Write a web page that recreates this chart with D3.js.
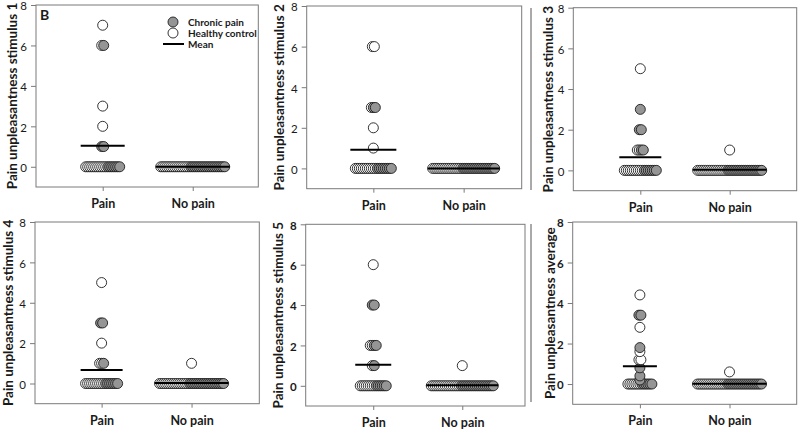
<!DOCTYPE html>
<html>
<head>
<meta charset="utf-8">
<script src="https://cdn.jsdelivr.net/npm/d3@7"></script>
<style>
  html, body { margin: 0; padding: 0; background: #fff; }
  svg { display: block; }
  text { font-family: Lato, "Open Sans", sans-serif; fill: #1a1a1a; }
</style>
</head>
<body>
<svg id="chart" width="800" height="429"></svg>
<script>
// ---------------- data ----------------
const categories = ["Pain", "No pain"];
const yTicks = [0, 2, 4, 6, 8];
const yDomain = [-1, 8];
const panelTitles = [
  "Pain unpleasantness stimulus 1",
  "Pain unpleasantness stimulus 2",
  "Pain unpleasantness stimulus 3",
  "Pain unpleasantness stimulus 4",
  "Pain unpleasantness stimulus 5",
  "Pain unpleasantness average"
];
const legendLabels = ["Chronic pain", "Healthy control", "Mean"];
const panelLetter = "B";

// Stimulus 1
const painLevels1 = [0, 1, 2, 3, 6, 7];
const painChronic1 = [7, 2, 0, 0, 1, 0];
const painHealthy1 = [11, 0, 1, 1, 1, 1];
const noPainLevels1 = [0];
const noPainChronic1 = [18];
const noPainHealthy1 = [15];

// Stimulus 2
const painLevels2 = [0, 1, 2, 3, 6];
const painChronic2 = [8, 0, 0, 2, 0];
const painHealthy2 = [11, 1, 1, 1, 2];
const noPainLevels2 = [0];
const noPainChronic2 = [17];
const noPainHealthy2 = [15];

// Stimulus 3
const painLevels3 = [0, 1, 2, 3, 5];
const painChronic3 = [7, 2, 2, 1, 0];
const painHealthy3 = [10, 2, 0, 0, 1];
const noPainLevels3 = [0, 1];
const noPainChronic3 = [18, 0];
const noPainHealthy3 = [15, 1];

// Stimulus 4
const painLevels4 = [0, 1, 2, 3, 5];
const painChronic4 = [7, 1, 0, 2, 0];
const painHealthy4 = [10, 2, 1, 0, 1];
const noPainLevels4 = [0, 1];
const noPainChronic4 = [18, 0];
const noPainHealthy4 = [15, 1];

// Stimulus 5
const painLevels5 = [0, 1, 2, 4, 6];
const painChronic5 = [6, 1, 2, 2, 0];
const painHealthy5 = [8, 1, 2, 0, 1];
const noPainLevels5 = [0, 1];
const noPainChronic5 = [17, 0];
const noPainHealthy5 = [15, 1];

// Average
const painLevels6 = [0, 0.2, 0.4, 0.8, 1.2, 1.6, 1.8, 2.8, 3.4, 4.4];
const painChronic6 = [6, 1, 1, 1, 0, 0, 1, 0, 2, 0];
const painHealthy6 = [7, 0, 0, 0, 2, 1, 0, 1, 0, 1];
const noPainLevels6 = [0, 0.6];
const noPainChronic6 = [18, 0];
const noPainHealthy6 = [15, 1];

// ---------------- layout ----------------
const layouts = [
  { x0: 36,    x1: 258.3, y0: 5,     y1: 187,   cat: [0.30, 0.705], labX: 12 },
  { x0: 306.7, x1: 521.7, y0: 6,     y1: 188.7, cat: [0.31, 0.73],  labX: 279 },
  { x0: 573.3, x1: 796.7, y0: 7.7,   y1: 190.7, cat: [0.30, 0.70],  labX: 548 },
  { x0: 35,    x1: 259.3, y0: 222,   y1: 403.7, cat: [0.297, 0.698], labX: 8 },
  { x0: 305.7, x1: 525,   y0: 224.3, y1: 406,   cat: [0.308, 0.714], labX: 278 },
  { x0: 572.7, x1: 796.7, y0: 222,   y1: 404.3, cat: [0.30, 0.70],  labX: 550 }
];

const panelData = [
  [[painLevels1, painChronic1, painHealthy1], [noPainLevels1, noPainChronic1, noPainHealthy1]],
  [[painLevels2, painChronic2, painHealthy2], [noPainLevels2, noPainChronic2, noPainHealthy2]],
  [[painLevels3, painChronic3, painHealthy3], [noPainLevels3, noPainChronic3, noPainHealthy3]],
  [[painLevels4, painChronic4, painHealthy4], [noPainLevels4, noPainChronic4, noPainHealthy4]],
  [[painLevels5, painChronic5, painHealthy5], [noPainLevels5, noPainChronic5, noPainHealthy5]],
  [[painLevels6, painChronic6, painHealthy6], [noPainLevels6, noPainChronic6, noPainHealthy6]]
];

const R = 5;          // circle radius
const STEP = 2;       // horizontal offset between overlapping points
const FILL = { chronic: "#959595", healthy: "#ffffff" };
const BOX = "#7a7a7a";
const STROKE = "#1e1e1e";

const svg = d3.select("#chart");

// decorative composite separators seen in the figure
svg.append("line").attr("x1", 531).attr("x2", 531).attr("y1", 8).attr("y2", 190)
  .attr("stroke", "#555").attr("stroke-width", 1);
svg.append("line").attr("x1", 531).attr("x2", 531).attr("y1", 224).attr("y2", 402)
  .attr("stroke", "#555").attr("stroke-width", 1);

layouts.forEach((L, pi) => {
  const g = svg.append("g");
  const y = d3.scaleLinear().domain(yDomain).range([L.y1, L.y0]);
  const x = d3.scalePoint().domain(categories)
    .range([L.x0 + L.cat[0] * (L.x1 - L.x0), L.x0 + L.cat[1] * (L.x1 - L.x0)]);

  // frame
  g.append("rect").attr("x", L.x0).attr("y", L.y0)
    .attr("width", L.x1 - L.x0).attr("height", L.y1 - L.y0)
    .attr("fill", "none").attr("stroke", BOX).attr("stroke-width", 1);

  // y axis
  const ya = g.append("g").attr("transform", `translate(${L.x0},0)`)
    .call(d3.axisLeft(y).tickValues(yTicks).tickSize(5).tickPadding(4).tickFormat(d3.format("d")));
  ya.select(".domain").remove();
  ya.selectAll(".tick line").attr("stroke", BOX);
  ya.selectAll(".tick text").attr("dy", "0.42em")
    .style("font-family", "Lato, sans-serif").style("font-size", "11.5px")
    .style("font-weight", pi >= 4 ? "bold" : "normal").attr("fill", "#1a1a1a");

  // x axis
  const xa = g.append("g").attr("transform", `translate(0,${L.y1})`)
    .call(d3.axisBottom(x).tickSize(4).tickPadding(8));
  xa.select(".domain").remove();
  xa.selectAll(".tick line").attr("stroke", BOX);
  xa.selectAll(".tick text").style("font-family", "Lato, sans-serif").style("font-size", "12.5px")
    .style("font-weight", "bold").attr("fill", "#1a1a1a");

  // y label
  g.append("text")
    .attr("transform", `translate(${L.labX},${(L.y0 + L.y1) / 2}) rotate(-90)`)
    .attr("text-anchor", "middle").attr("dy", "0.35em")
    .style("font-size", "13.5px").style("font-weight", "bold")
    .text(panelTitles[pi]);

  // points
  panelData[pi].forEach((grp, ci) => {
    const [levels, chronic, healthy] = grp;
    const cx = x(categories[ci]);
    const pts = [];
    let maxN = 1;
    levels.forEach((v, li) => {
      const list = [];
      for (let k = 0; k < healthy[li]; k++) list.push({ v, type: "healthy" });
      for (let k = 0; k < chronic[li]; k++) list.push({ v, type: "chronic" });
      const n = list.length;
      if (n > maxN) maxN = n;
      list.forEach((p, i) => { p.off = (i - (n - 1) / 2) * STEP; pts.push(p); });
    });
    g.append("g").selectAll("circle").data(pts).join("circle")
      .attr("cx", d => cx + d.off).attr("cy", d => y(d.v)).attr("r", R)
      .attr("fill", d => FILL[d.type]).attr("stroke", STROKE).attr("stroke-width", 0.9);

    const m = d3.mean(pts, d => d.v);
    const half = (maxN - 1) / 2 * STEP + R;
    g.append("line").attr("x1", cx - half).attr("x2", cx + half)
      .attr("y1", y(m)).attr("y2", y(m)).attr("stroke", "#000").attr("stroke-width", 2);
  });

  if (pi === 0) {
    g.append("text").attr("x", L.x0 + 4).attr("y", L.y0 + 15)
      .style("font-size", "14px").style("font-weight", "bold").text(panelLetter);
    const lx = 173, tx = 188;
    const ly = [22, 33, 44];
    g.append("circle").attr("cx", lx).attr("cy", ly[0]).attr("r", R)
      .attr("fill", FILL.chronic).attr("stroke", STROKE).attr("stroke-width", 0.9);
    g.append("circle").attr("cx", lx).attr("cy", ly[1]).attr("r", R)
      .attr("fill", FILL.healthy).attr("stroke", STROKE).attr("stroke-width", 0.9);
    g.append("line").attr("x1", 163).attr("x2", 184).attr("y1", ly[2]).attr("y2", ly[2])
      .attr("stroke", "#000").attr("stroke-width", 2);
    legendLabels.forEach((t, i) => {
      g.append("text").attr("x", tx).attr("y", ly[i]).attr("dy", "0.35em")
        .style("font-size", "10px").style("font-weight", "bold").text(t);
    });
  }
});
</script>
</body>
</html>
